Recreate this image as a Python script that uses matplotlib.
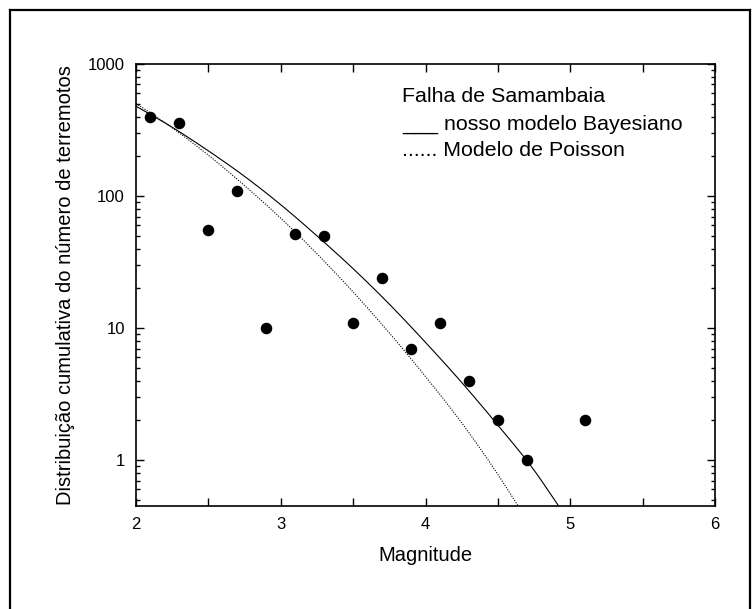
import numpy as np
import matplotlib
matplotlib.use("Agg")
import matplotlib.pyplot as plt
from matplotlib.ticker import FixedLocator, LogLocator, NullFormatter, FixedFormatter
from matplotlib.lines import Line2D

plt.rcParams['font.family'] = ['Liberation Sans', 'DejaVu Sans']

# observed data
mag_obs = [2.1, 2.3, 2.5, 2.7, 2.9, 3.1, 3.3, 3.5, 3.7, 3.9, 4.1, 4.3, 4.5, 4.7, 5.1]
n_obs = [400, 360, 55, 110, 10, 52, 50, 11, 24, 7, 11, 4, 2, 1, 2]

# Bayesian model curve (solid)
mag_bayes = [2.0, 2.25, 2.5, 2.75, 3.0, 3.25, 3.5, 3.75, 4.0, 4.25, 4.5, 4.75, 4.92]
n_bayes = [479, 332, 220, 141, 86, 50, 28.2, 15.2, 7.8, 3.88, 1.84, 0.84, 0.45]

# Poisson model curve (dotted)
mag_pois = [2.0, 2.25, 2.5, 2.75, 3.0, 3.25, 3.5, 3.75, 4.0, 4.25, 4.5, 4.64]
n_pois = [503, 329, 204, 120, 68, 36.6, 18.8, 9.2, 4.3, 1.92, 0.78, 0.45]

xtick_labels = ['2', '', '3', '', '4', '', '5', '', '6']
yticks = [1, 10, 100, 1000]
ytick_labels = ['1', '10', '100', '1000']
legend_title = 'Falha de Samambaia'
legend_lines = ['___ nosso modelo Bayesiano', '...... Modelo de Poisson']

fig = plt.figure(figsize=(7.52, 6.09), dpi=100)
ax = fig.add_axes([136/752, 1-506/609, (715-136)/752, (506-64)/609])

def smooth(xs, ys, n=200):
    xs = np.asarray(xs, float); ly = np.log10(ys)
    xx = np.linspace(xs[0], xs[-1], n)
    out = np.empty_like(xx)
    m = np.gradient(ly, xs)
    for i, x in enumerate(xx):
        k = min(np.searchsorted(xs, x, side='right') - 1, len(xs) - 2)
        h = xs[k+1] - xs[k]; t = (x - xs[k]) / h
        h00 = 2*t**3 - 3*t**2 + 1; h10 = t**3 - 2*t**2 + t
        h01 = -2*t**3 + 3*t**2; h11 = t**3 - t**2
        out[i] = h00*ly[k] + h10*h*m[k] + h01*ly[k+1] + h11*h*m[k+1]
    return xx, 10**out

xb, yb = smooth(mag_bayes, n_bayes)
xp, yp = smooth(mag_pois, n_pois)
ax.plot(xb, yb, color='black', lw=0.8, solid_capstyle='butt')
ax.plot(xp, yp, color='black', lw=0.8, linestyle=(0, (1, 1.3)))
ax.plot(mag_obs, n_obs, 'o', color='black', ms=7.3, mec='black')

ax.set_yscale('log')
ax.set_xlim(2, 6)
ax.set_ylim(0.45, 1000)

ax.xaxis.set_major_locator(FixedLocator(np.arange(2, 6.01, 0.5)))
ax.xaxis.set_major_formatter(FixedFormatter(xtick_labels))
ax.yaxis.set_major_locator(FixedLocator(yticks))
ax.yaxis.set_major_formatter(FixedFormatter(ytick_labels))
ax.yaxis.set_minor_locator(LogLocator(base=10, subs=np.arange(2, 10), numticks=20))
ax.yaxis.set_minor_formatter(NullFormatter())

ax.tick_params(which='both', direction='in', top=True, right=True, width=1.0, colors='black')
ax.tick_params(which='major', length=6, labelsize=12)
ax.tick_params(which='minor', length=3.2)
ax.tick_params(axis='x', which='major', pad=8)
ax.tick_params(axis='y', which='major', pad=8)
for s in ax.spines.values():
    s.set_linewidth(1.2)

ax.set_xlabel('Magnitude', fontsize=14.5, labelpad=10)
ax.set_ylabel('Distribuição cumulativa do número de terremotos', fontsize=14.5, labelpad=9)

tx = (402 - 136) / 579
for txt, ypx in zip([legend_title] + legend_lines, [97, 124, 150]):
    ax.text(tx, (506 - ypx) / 442, txt, transform=ax.transAxes, fontsize=15.4,
            va='center', ha='left')

# outer frame
fx0, fx1, fy1 = 10/752, 750/752, 1-10/609
fig.add_artist(Line2D([fx0, fx0], [0, fy1], transform=fig.transFigure, color='black', lw=1.6))
fig.add_artist(Line2D([fx0, fx1], [fy1, fy1], transform=fig.transFigure, color='black', lw=1.6))
fig.add_artist(Line2D([fx1, fx1], [0, fy1], transform=fig.transFigure, color='black', lw=1.6))

fig.savefig('out.png', dpi=100)
